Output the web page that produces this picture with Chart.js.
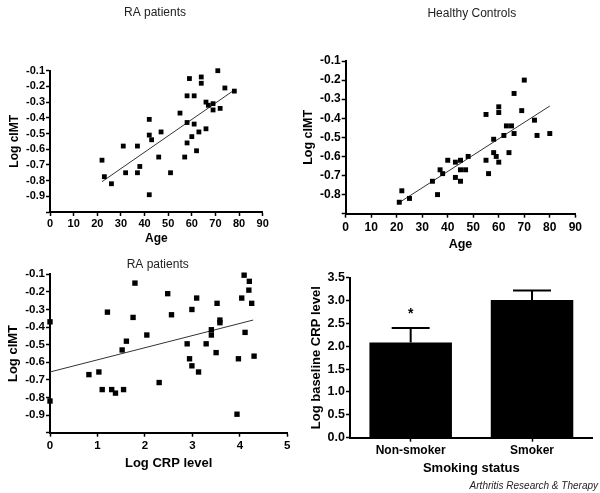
<!DOCTYPE html>
<html>
<head>
<meta charset="utf-8">
<script src="https://cdn.jsdelivr.net/npm/chart.js@4.4.0/dist/chart.umd.min.js"></script>
<style>
  html, body { margin: 0; padding: 0; background: #fff; }
  #wrap { position: relative; width: 600px; height: 493px; overflow: hidden; }
  #wrap canvas { position: absolute; left: 0; top: 0; }
</style>
</head>
<body>
<div id="wrap">
  <canvas id="c1" width="600" height="493"></canvas>
  <canvas id="c2" width="600" height="493"></canvas>
  <canvas id="c3" width="600" height="493"></canvas>
  <canvas id="c4" width="600" height="493"></canvas>
</div>
<script>
// RA patients: age vs log cIMT
const raAge = [22, 23, 26, 31, 32, 37, 37, 38, 42, 42, 42, 43, 46, 47, 51, 55, 57, 58, 58, 58, 59, 60, 61, 61, 62, 63, 64, 64, 66, 66, 67, 69, 69, 71, 72, 74, 78];
const raCimt = [-0.67, -0.775, -0.82, -0.58, -0.75, -0.58, -0.75, -0.71, -0.41, -0.51, -0.89, -0.54, -0.65, -0.49, -0.75, -0.37, -0.65, -0.26, -0.43, -0.56, -0.15, -0.52, -0.26, -0.44, -0.61, -0.49, -0.14, -0.18, -0.30, -0.47, -0.32, -0.31, -0.35, -0.10, -0.34, -0.21, -0.23];
const raFitAge = [22, 78];
const raFitCimt = [-0.807, -0.223];

// Healthy controls: age vs log cIMT
const hcAge = [21, 22, 25, 34, 36, 37, 38, 40, 43, 43, 45, 45, 45, 47, 48, 55, 55, 56, 58, 58, 59, 60, 60, 60, 62, 63, 64, 65, 66, 66, 69, 70, 74, 75, 80];
const hcCimt = [-0.84, -0.78, -0.82, -0.73, -0.80, -0.67, -0.69, -0.62, -0.63, -0.71, -0.62, -0.67, -0.73, -0.67, -0.60, -0.38, -0.62, -0.69, -0.51, -0.58, -0.60, -0.34, -0.37, -0.63, -0.49, -0.44, -0.58, -0.44, -0.27, -0.48, -0.36, -0.20, -0.41, -0.49, -0.48];
const hcFitAge = [21.3, 80];
const hcFitCimt = [-0.839, -0.336];

// RA patients: log CRP vs log cIMT
const crpLog = [0, 0, 0.82, 1.03, 1.10, 1.21, 1.30, 1.38, 1.52, 1.55, 1.61, 1.75, 1.79, 2.04, 2.30, 2.48, 2.56, 2.89, 2.94, 2.99, 2.99, 3.09, 3.13, 3.29, 3.40, 3.40, 3.50, 3.52, 3.58, 3.58, 3.94, 3.97, 4.04, 4.09, 4.11, 4.20, 4.19, 4.25, 4.30];
const crpCimt = [-0.37, -0.82, -0.67, -0.655, -0.755, -0.315, -0.755, -0.775, -0.53, -0.755, -0.48, -0.345, -0.15, -0.445, -0.715, -0.21, -0.33, -0.495, -0.58, -0.30, -0.62, -0.235, -0.655, -0.495, -0.415, -0.445, -0.545, -0.265, -0.36, -0.375, -0.895, -0.58, -0.235, -0.105, -0.43, -0.14, -0.19, -0.265, -0.565];
const crpFitLog = [0, 4.28];
const crpFitCimt = [-0.655, -0.36];

// Smoking status vs baseline CRP
const smokingGroups = ['Non-smoker', 'Smoker'];
const crpMean = [2.08, 3.01];
const crpErrTop = [2.40, 3.22];
const sigMarks = ['*', ''];

const FONT = '"Liberation Sans", Arial, Helvetica, sans-serif';

const toPoints = (xs, ys) => xs.map((x, i) => ({ x: x, y: ys[i] }));

// free text (panel titles, journal name)
const panelText = {
  id: 'panelText',
  afterDraw(chart, args, opts) {
    const ctx = chart.ctx;
    (opts.items || []).forEach(it => {
      ctx.save();
      ctx.font = it.font;
      ctx.fillStyle = it.color || '#000';
      ctx.textAlign = it.align || 'center';
      ctx.textBaseline = 'middle';
      ctx.fillText(it.text, it.x, it.y);
      ctx.restore();
    });
  }
};

// upper error bars + significance mark for the bar chart
const errorBars = {
  id: 'errorBars',
  afterDatasetsDraw(chart) {
    const meta = chart.getDatasetMeta(0);
    const yScale = chart.scales.y;
    const ctx = chart.ctx;
    ctx.save();
    ctx.strokeStyle = '#000';
    ctx.fillStyle = '#000';
    ctx.lineWidth = 2;
    meta.data.forEach((bar, i) => {
      const top = yScale.getPixelForValue(crpErrTop[i]);
      const half = bar.width * 0.23;
      ctx.beginPath();
      ctx.moveTo(bar.x, bar.y);
      ctx.lineTo(bar.x, top);
      ctx.moveTo(bar.x - half, top);
      ctx.lineTo(bar.x + half, top);
      ctx.stroke();
      if (sigMarks[i]) {
        ctx.font = 'bold 14px ' + FONT;
        ctx.textAlign = 'center';
        ctx.textBaseline = 'middle';
        ctx.fillText(sigMarks[i], bar.x, top - 14);
      }
    });
    ctx.restore();
  }
};

function axis(fontSize, pad, fit) {
  return {
    border: { display: true, color: '#000', width: 2 },
    grid: { display: true, drawOnChartArea: false, drawTicks: true, tickLength: 4, tickWidth: 1.5, color: '#000' },
    ticks: { color: '#000', padding: pad, autoSkip: false, maxRotation: 0, font: { family: FONT, size: fontSize, weight: 'bold' } },
    afterFit: fit
  };
}

function axisTitle(text, size) {
  return { display: true, text: text, color: '#000', padding: 0, font: { family: FONT, size: size, weight: 'bold' } };
}

function scatterPanel(id, pts, fit, cfg) {
  const x = axis(cfg.tick, cfg.xPad, s => { s.height = cfg.xH; });
  x.type = 'linear';
  x.min = cfg.xMin; x.max = cfg.xMax;
  x.ticks.stepSize = cfg.xStep;
  x.title = axisTitle(cfg.xTitle, cfg.xTitleSize);

  const y = axis(cfg.tick, 1, s => { s.width = cfg.yW; });
  y.min = cfg.yMin; y.max = -0.1;
  y.ticks.stepSize = 0.1;
  y.ticks.callback = v => Math.abs(v - cfg.yMin) < 1e-6 ? '' : v.toFixed(1);
  y.title = axisTitle('Log cIMT', cfg.yTitleSize);

  return new Chart(document.getElementById(id), {
    type: 'scatter',
    data: {
      datasets: [{
        data: pts,
        pointStyle: 'rect',
        pointRadius: cfg.r,
        pointBorderWidth: 0,
        backgroundColor: '#000',
        borderColor: '#000',
        clip: false
      }, {
        data: fit,
        showLine: true,
        pointRadius: 0,
        borderColor: '#333',
        borderWidth: 1,
        clip: false
      }]
    },
    options: {
      responsive: false,
      animation: false,
      layout: { padding: cfg.padding },
      scales: { x: x, y: y },
      plugins: {
        legend: { display: false },
        tooltip: { enabled: false },
        panelText: { items: cfg.text }
      }
    },
    plugins: [panelText]
  });
}

scatterPanel('c1', toPoints(raAge, raCimt), toPoints(raFitAge, raFitCimt), {
  tick: 11, xPad: 1, xH: 34.2, yW: 42.2, r: 3.4,
  xMin: 0, xMax: 90, xStep: 10, yMin: -1.0,
  xTitle: 'Age', xTitleSize: 12, yTitleSize: 12,
  padding: { left: 7.8, top: 70.7, right: 337.3, bottom: 246.8 },
  text: [{ text: 'RA patients', x: 155, y: 12.5, font: '12px ' + FONT, color: '#222' }]
});

scatterPanel('c2', toPoints(hcAge, hcCimt), toPoints(hcFitAge, hcFitCimt), {
  tick: 12, xPad: 2.5, xH: 38.1, yW: 44.2, r: 3.5,
  xMin: 0, xMax: 90, xStep: 10, yMin: -0.9,
  xTitle: 'Age', xTitleSize: 12.5, yTitleSize: 12.5,
  padding: { left: 301.5, top: 61, right: 24.7, bottom: 241.2 },
  text: [{ text: 'Healthy Controls', x: 471.8, y: 13.3, font: '12px ' + FONT, color: '#222' }]
});

scatterPanel('c3', toPoints(crpLog, crpCimt), toPoints(crpFitLog, crpFitCimt), {
  tick: 11.5, xPad: 2.4, xH: 38.4, yW: 44.8, r: 3.8,
  xMin: 0, xMax: 5, xStep: 1, yMin: -1.0,
  xTitle: 'Log CRP level', xTitleSize: 13, yTitleSize: 13,
  padding: { left: 5.2, top: 274.3, right: 312.7, bottom: 21.9 },
  text: [{ text: 'RA patients', x: 157.7, y: 265, font: '12px ' + FONT, color: '#222' }]
});

const barX = axis(12, 2, s => { s.height = 38.8; });
barX.grid.offset = false;
barX.title = axisTitle('Smoking status', 13);
const barY = axis(12.5, 1, s => { s.width = 41.1; });
barY.min = 0; barY.max = 3.5;
barY.ticks.stepSize = 0.5;
barY.ticks.callback = v => v.toFixed(1);
barY.title = axisTitle('Log baseline CRP level', 13);

new Chart(document.getElementById('c4'), {
  type: 'bar',
  data: {
    labels: smokingGroups,
    datasets: [{
      data: crpMean,
      backgroundColor: '#000',
      borderWidth: 0,
      categoryPercentage: 1,
      barPercentage: 0.68
    }]
  },
  options: {
    responsive: false,
    animation: false,
    layout: { padding: { left: 308.9, top: 277.7, right: 7.3, bottom: 16.5 } },
    scales: { x: barX, y: barY },
    plugins: {
      legend: { display: false },
      tooltip: { enabled: false },
      panelText: {
        items: [{ text: 'Arthritis Research & Therapy', x: 598, y: 486, align: 'right', font: 'italic 10px ' + FONT, color: '#222' }]
      }
    }
  },
  plugins: [errorBars, panelText]
});
</script>
</body>
</html>
